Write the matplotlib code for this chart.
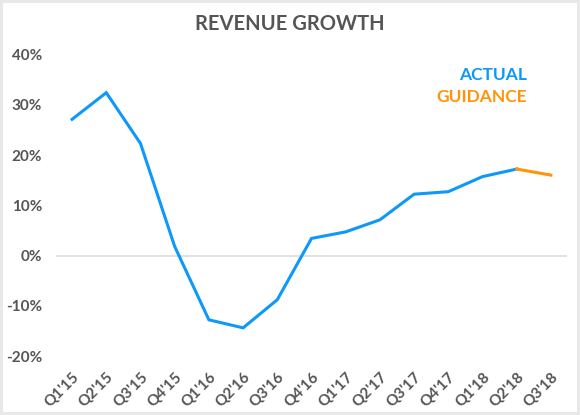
import matplotlib
matplotlib.use("Agg")
import matplotlib.pyplot as plt

quarters = ["Q1'15", "Q2'15", "Q3'15", "Q4'15", "Q1'16", "Q2'16", "Q3'16", "Q4'16",
            "Q1'17", "Q2'17", "Q3'17", "Q4'17", "Q1'18", "Q2'18", "Q3'18"]
actual = [27.1, 32.4, 22.3, 1.8, -12.8, -14.4, -8.8, 3.4, 4.7, 7.1, 12.2, 12.7, 15.7, 17.2]
guidance = [17.2, 16.0]   # Q2'18 -> Q3'18
y_ticks = [-20, -10, 0, 10, 20, 30, 40]

blue = '#0D98FA'
orange = '#FF9408'
gray = '#555555'

plt.rcParams['font.family'] = ['Lato', 'DejaVu Sans']

fig = plt.figure(figsize=(5.8, 4.15), dpi=100)
fig.patch.set_facecolor('white')
fig.patch.set_edgecolor('#e8e8e8')
fig.patch.set_linewidth(3)
ax = fig.add_axes([56 / 580, 1 - 356 / 415, (567 - 56) / 580, (356 - 54.5) / 415])

x_act = list(range(len(actual)))
x_gui = [len(actual) - 1, len(actual)]
ax.plot(x_act, actual, color=blue, lw=2.2, solid_joinstyle='miter')
ax.plot(x_gui, guidance, color=orange, lw=2.2)
ax.axhline(0, color='#dddddd', lw=1.2, zorder=0)

ax.set_xlim(-0.47, len(quarters) - 1 + 0.47)
ax.set_ylim(-20, 40)
ax.set_yticks(y_ticks)
ax.set_yticklabels([f'{v}%' for v in y_ticks])
ax.set_xticks(range(len(quarters)))
ax.set_xticklabels(quarters, rotation=45, ha='right', va='top', rotation_mode='anchor')

for s in ax.spines.values():
    s.set_visible(False)
ax.tick_params(length=0, colors=gray, labelsize=11)
ax.tick_params(axis='y', pad=10)
ax.tick_params(axis='x', pad=10)
for lbl in ax.get_xticklabels() + ax.get_yticklabels():
    lbl.set_fontweight('bold')

fig.text(290 / 580, 1 - 24.5 / 415, 'REVENUE GROWTH', ha='center', va='center',
         fontsize=14.5, fontweight='bold', color=gray)
fig.text(527 / 580, 1 - 75.5 / 415, 'ACTUAL', ha='right', va='center',
         fontsize=12.5, fontweight='bold', color=blue)
fig.text(527 / 580, 1 - 97.5 / 415, 'GUIDANCE', ha='right', va='center',
         fontsize=12.5, fontweight='bold', color=orange)

fig.savefig('out.png', dpi=100, facecolor=fig.get_facecolor(), edgecolor=fig.get_edgecolor())
